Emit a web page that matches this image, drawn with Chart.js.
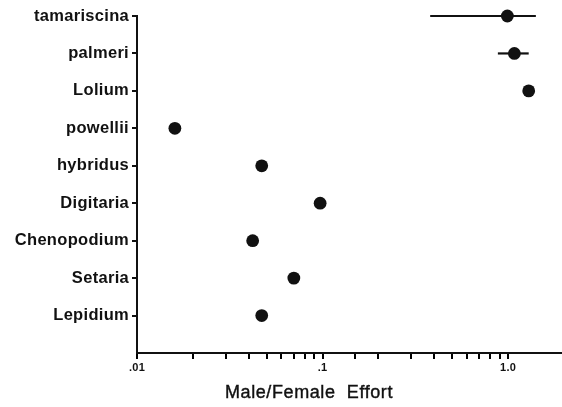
<!DOCTYPE html>
<html><head><meta charset="utf-8">
<script src="https://cdn.jsdelivr.net/npm/chart.js@4/dist/chart.umd.min.js"></script>
<style>html,body{margin:0;padding:0;background:#fff;}#wrap{width:562px;height:407px;}</style>
</head><body><div id="wrap"><canvas id="c" width="562" height="407"></canvas></div>
<script>
const categories = ['Lepidium','Setaria','Chenopodium','Digitaria','hybridus','powellii','Lolium','palmeri','tamariscina'];
const effort  = [0.047, 0.070, 0.042, 0.097, 0.047, 0.016, 1.29, 1.08, 0.99];
const errLow  = [null, null, null, null, null, null, null, 0.88, 0.38];
const errHigh = [null, null, null, null, null, null, null, 1.29, 1.41];
const xTickValues = [0.01, 0.1, 1];
const xTickLabels = ['.01', '.1', '1.0'];
const axisTitle = 'Male/Female  Effort';

const INK = '#111111';
const FONT = '"Liberation Sans", Arial, sans-serif';

const pointData = effort.map((v, i) => ({x: v, y: i}));
const errorSets = [];
errLow.forEach((lo, i) => {
  if (lo !== null) {
    errorSets.push({
      data: [{x: lo, y: i}, {x: errHigh[i], y: i}],
      showLine: true, borderColor: INK, borderWidth: 2.2,
      pointRadius: 0, pointHoverRadius: 0, clip: false
    });
  }
});

const spacingPlugin = {
  id: 'spacing',
  beforeDraw(chart) { chart.ctx.letterSpacing = '0.3px'; }
};
const titlePlugin = {
  id: 'xtitle',
  afterDraw(chart) {
    const {ctx, chartArea} = chart;
    ctx.save();
    ctx.font = '18px ' + FONT;
    ctx.letterSpacing = '0.6px';
    ctx.fillStyle = INK;
    ctx.strokeStyle = INK;
    ctx.lineWidth = 0.4;
    ctx.textAlign = 'center';
    ctx.textBaseline = 'middle';
    const x = chartArea.left + 172, y = chartArea.bottom + 40;
    ctx.fillText(axisTitle, x, y);
    ctx.strokeText(axisTitle, x, y);
    ctx.restore();
  }
};

new Chart(document.getElementById('c'), {
  type: 'scatter',
  data: {
    datasets: [
      {data: pointData, backgroundColor: INK, borderWidth: 0, pointRadius: 6.4, pointHoverRadius: 6.4, clip: false},
      ...errorSets
    ]
  },
  options: {
    responsive: false,
    animation: false,
    events: [],
    layout: {autoPadding: false, padding: {top: 16, right: 0, left: 0, bottom: 0}},
    plugins: {legend: {display: false}, tooltip: {enabled: false}},
    scales: {
      x: {
        type: 'logarithmic', position: 'bottom', min: 0.01, max: 1.95,
        border: {display: true, color: INK, width: 2},
        grid: {display: true, drawOnChartArea: false, drawTicks: true, tickLength: 6, color: '#000', lineWidth: 2, tickColor: '#000', tickWidth: 2},
        ticks: {
          autoSkip: false, maxRotation: 0, padding: 2, color: INK,
          font: {size: 11, weight: 'bold', family: FONT},
          callback: (v) => {
            const k = xTickValues.findIndex(t => Math.abs(t - v) / t < 1e-6);
            return k >= 0 ? xTickLabels[k] : '';
          }
        },
        afterBuildTicks: (s) => { s.ticks = s.ticks.filter(t => t.value <= 1.0001); },
        afterFit: (s) => { s.height = 54; }
      },
      y: {
        type: 'linear', min: -1, max: 8,
        border: {display: true, color: INK, width: 2},
        grid: {display: true, drawOnChartArea: false, drawTicks: true, tickLength: 5, color: INK, lineWidth: 2},
        ticks: {
          stepSize: 1, autoSkip: false, padding: 3, color: INK,
          font: {size: 16.5, weight: 'bold', family: FONT},
          callback: (v) => (categories[v] !== undefined ? categories[v] : '')
        },
        afterBuildTicks: (s) => { s.ticks = s.ticks.filter(t => t.value >= 0); },
        afterFit: (s) => { s.width = 137; }
      }
    }
  },
  plugins: [spacingPlugin, titlePlugin]
});
</script>
</body></html>
